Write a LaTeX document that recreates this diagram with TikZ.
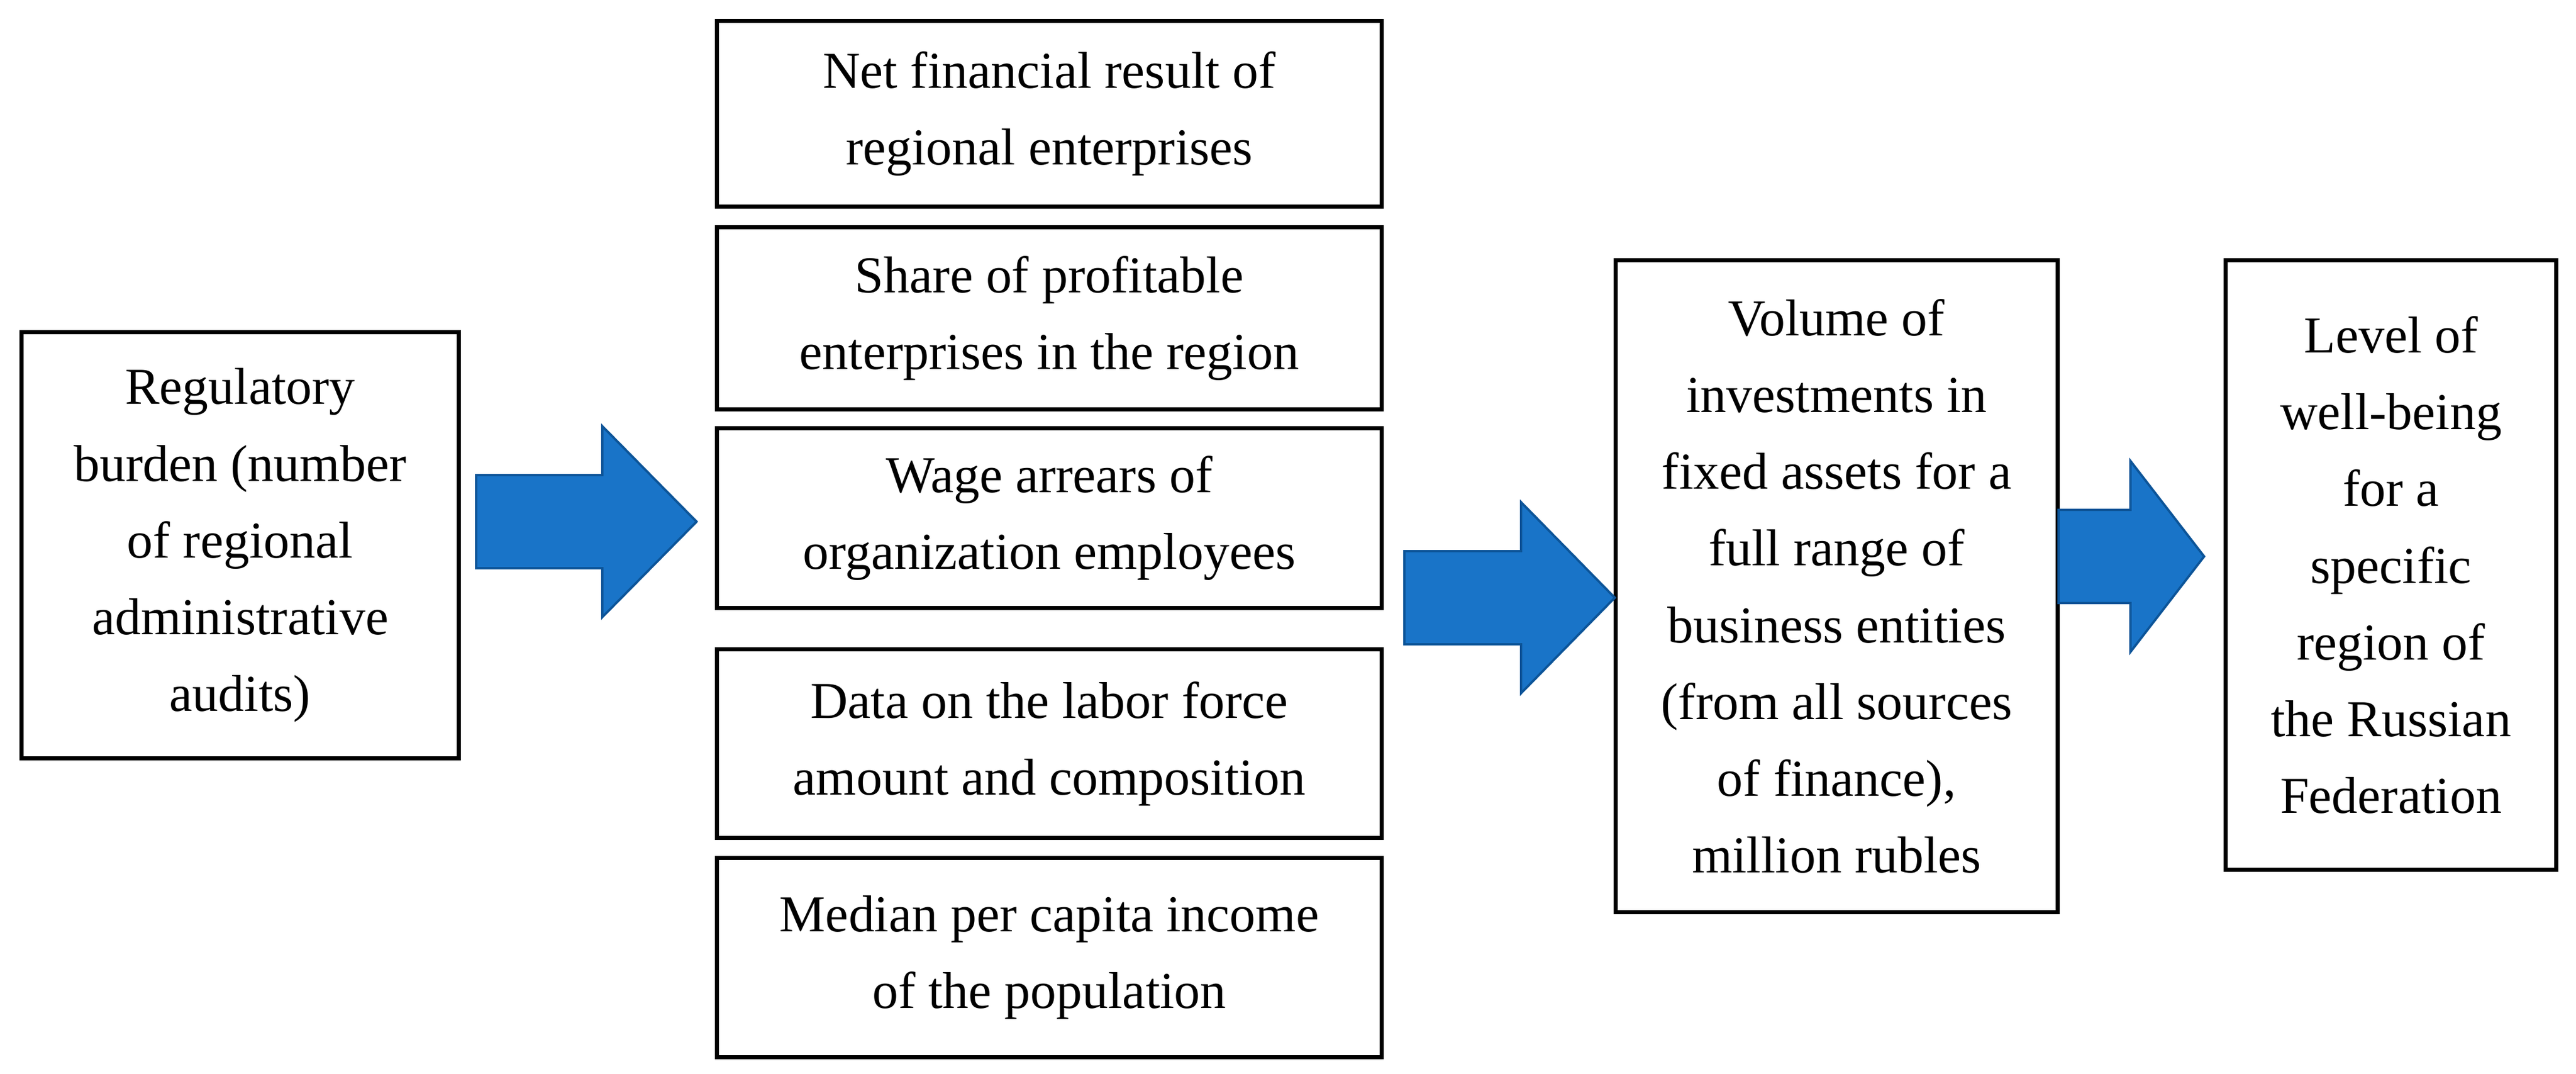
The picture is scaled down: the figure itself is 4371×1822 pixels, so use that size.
\documentclass[tikz,border=0pt]{standalone}
\usepackage{fontspec}
\setmainfont{Liberation Serif}
\usetikzlibrary{calc}
\definecolor{arrblue}{RGB}{25,116,200}
\definecolor{arredge}{RGB}{12,84,152}
\tikzset{
  box/.style={draw=black, line width=2pt, align=center, inner sep=0pt,
    font=\fontsize{25pt}{37pt}\selectfont},
  midbox/.style={box, minimum width=11.28cm},
  arrstyle/.style={fill=arrblue, draw=arredge, line width=1.1pt, line join=miter}
}
\newcommand{\blockarr}[3]{%
  \draw[arrstyle] ($(#1)+(0,-79)$) -- ($(#2)+(-#3,-79)$) -- ($(#2)+(-#3,-162)$) -- (#2)
    -- ($(#2)+(-#3,162)$) -- ($(#2)+(-#3,79)$) -- ($(#1)+(0,79)$) -- cycle;}
\begin{document}
\begin{tikzpicture}[x=0.01cm,y=-0.01cm]
  \fill[white] (0,0) rectangle (4371,1822);
  \useasboundingbox (0,0) rectangle (4371,1822);

  \node[box, minimum width=7.42cm, minimum height=7.23cm] (reg) at (407.5,925)
    {Regulatory\\burden (number\\of regional\\administrative\\audits)};

  \node[midbox, minimum height=3.15cm] (m1) at (1780.5,193)
    {Net financial result of\\regional enterprises};
  \node[midbox, minimum height=3.09cm] (m2) at (1780.5,540)
    {Share of profitable\\enterprises in the region};
  \node[midbox, minimum height=3.05cm] (m3) at (1780.5,879)
    {Wage arrears of\\organization employees};
  \node[midbox, minimum height=3.20cm] (m4) at (1780.5,1261.5)
    {Data on the labor force\\amount and composition};
  \node[midbox, minimum height=3.38cm] (m5) at (1780.5,1624.5)
    {Median per capita income\\of the population};

  \node[box, minimum width=7.50cm, minimum height=11.06cm] (vol) at (3116.5,994.5)
    {Volume of\\investments in\\fixed assets for a\\full range of\\business entities\\(from all sources\\of finance),\\million rubles};

  \node[box, minimum width=5.61cm, minimum height=10.34cm] (lev) at (4057,958.5)
    {Level of\\well-being\\for a\\specific\\region of\\the Russian\\Federation};

  \coordinate (a1s) at (808,885);  \coordinate (a1t) at (1182,885);
  \coordinate (a2s) at (2383,1014); \coordinate (a2t) at (2740,1014);
  \coordinate (a3s) at (3493,944); \coordinate (a3t) at (3740,944);

  \blockarr{a1s}{a1t}{160}
  \blockarr{a2s}{a2t}{159}
  \blockarr{a3s}{a3t}{125}
\end{tikzpicture}
\end{document}
